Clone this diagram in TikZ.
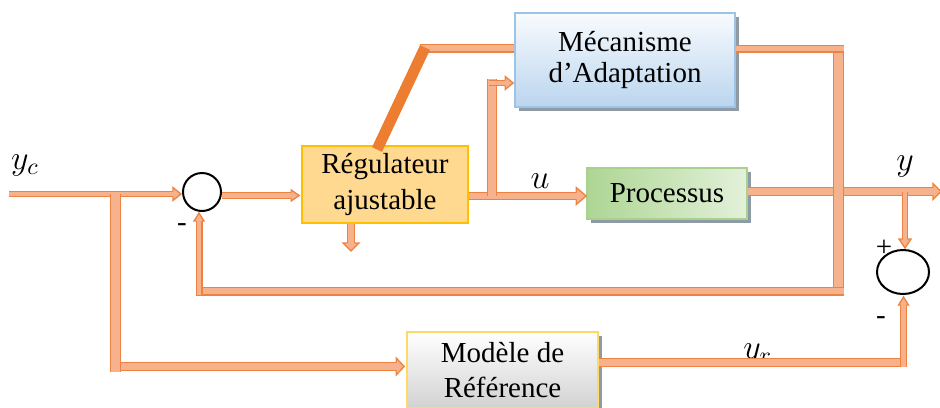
\documentclass[tikz,border=0pt]{standalone}
\usepackage{fix-cm}
\usepackage{fontspec}
\setmainfont{Liberation Serif}
\usetikzlibrary{calc,shadows,shapes.geometric}

\definecolor{pipefill}{HTML}{F5B28C}
\definecolor{pipeedge}{HTML}{EE8240}
\definecolor{adaptline}{HTML}{ED7D31}
\definecolor{regfill}{HTML}{FFD98F}
\definecolor{regedge}{HTML}{FFC000}
\definecolor{procleft}{HTML}{AED594}
\definecolor{procright}{HTML}{E3F1DA}
\definecolor{procedge}{HTML}{A9D18E}
\definecolor{mecatop}{HTML}{F8FBFE}
\definecolor{mecabot}{HTML}{BBD5EE}
\definecolor{mecaedge}{HTML}{9DC3E6}
\definecolor{modbot}{HTML}{D2D2D2}
\definecolor{modedge}{HTML}{FFD966}
\definecolor{shadowgray}{HTML}{8E9AA4}

\tikzset{
  % broad block-arrow shaft: orange rim, salmon core
  pipe/.style={draw=pipefill, line width=#1*0.5pt-1.3pt,
    preaction={draw=pipeedge, line width=#1*0.5pt}},
  % block-arrow head pointing along +x: shaft half width / head half width / head length
  pics/head/.style args={#1/#2/#3}{code={
    \fill[pipefill] (0,0) -- (-#3,#2) -- (-#3,-#2) -- cycle;
    \draw[pipeedge, line width=0.65pt, line join=miter]
      (-#3,#1) -- (-#3,#2) -- (0,0) -- (-#3,-#2) -- (-#3,-#1);
  }},
  txt/.style={font=\fontsize{14.5}{17.5}\selectfont, align=center, inner sep=0pt},
  blk/.style={txt, line width=0.8pt, minimum width=#1},
  sumnode/.style={draw=black, line width=1pt, inner sep=0pt},
  boxshadow/.style={drop shadow={shadow xshift=1.75pt, shadow yshift=-1.75pt,
    fill=shadowgray, opacity=1}},
  sign/.style={font=\fontsize{14.5}{17.5}\selectfont, inner sep=0pt},
  mlabel/.style={font=\fontsize{17}{20}\selectfont, inner sep=0pt}
}

\begin{document}
\begin{tikzpicture}[x=0.5pt, y=-0.5pt]
\useasboundingbox (0,0) rectangle (940,407);

% ---------- blocks ----------
\node[blk=83pt, minimum height=38.5pt, draw=regedge, fill=regfill]
  (reg) at (385,184.5) {Régulateur\\ajustable};
\node[blk=80pt, minimum height=25.5pt, draw=procedge, left color=procleft,
  right color=procright, boxshadow] (proc) at (667,193.5) {Processus};
\node[blk=110pt, minimum height=47pt, draw=mecaedge, top color=mecatop,
  bottom color=mecabot, boxshadow, font=\fontsize{14.5}{15.5}\selectfont]
  (meca) at (625,60) {Mécanisme\\d’Adaptation};
\node[blk=95.5pt, minimum height=38pt, draw=modedge, top color=white,
  bottom color=modbot, boxshadow] (model) at (502.5,370) {Modèle de\\Référence};

\node[sumnode, circle, minimum size=19pt] (sum1) at (202,192) {};
\node[sumnode, ellipse, minimum width=26pt, minimum height=22pt] (sum2) at (903,272) {};

% ---------- labels ----------
\node[mlabel] (lyc) at (25,165) {$y_c$};
\node[mlabel] (lu) at (540,181.5) {$u$};
\node[mlabel] (ly) at (905,166) {$y$};
\node[mlabel, anchor=base west] (lyr) at (743,358) {$y_r$};
\node[sign] (minus1) at (182,228) {-};
\node[sign] (plus2) at (884,248) {+};
\node[sign] (minus2) at (881,321) {-};

% ---------- junction points ----------
\coordinate (yin) at (9,194);
\coordinate (ysplit) at (115.5,194);
\coordinate (ycorner) at (115.5,366.5);
\coordinate (ujoin) at (492,196);
\coordinate (mtop) at (492,79);
\coordinate (yout) at (941,191.5);
\coordinate (ybr) at (905,191.5);
\coordinate (rtop) at (838.5,45);
\coordinate (rbot) at (838.5,295);
\coordinate (fbcorner) at (199,291);
\coordinate (mcorner) at (903.5,362.5);
\coordinate (adjtop) at (425,47.5);
\coordinate (adjbot) at (377,149.5);
\coordinate (regdown) at (351,251);

% ---------- set point into the first comparator ----------
\draw[pipe=6.5] (yin) -- ($(sum1.west |- yin)+(-9,0)$);
\pic at ($(sum1.west |- yin)+(-1,0)$) {head=2.6/6.5/8};

% ---------- set point into the reference model ----------
\draw[pipe=9] (ycorner) -- ($(model.west |- ycorner)+(-10,0)$);
\pic at ($(model.west |- ycorner)+(-2,0)$) {head=3.85/8.5/8};
\draw[pipe=11.5] (ysplit) -- ($(ycorner)+(0,5)$);

% ---------- comparator to controller ----------
\draw[pipe=7] ($(sum1.east)+(0,3.5)$) -- ($(reg.west |- 0,195.5)+(-10,0)$);
\pic at ($(reg.west |- 0,195.5)+(-2,0)$) {head=2.85/5.5/8};

% ---------- controller to process (u) ----------
\draw[pipe=8] (reg.east |- ujoin) -- ($(proc.west |- ujoin)+(-10,0)$);
\pic at (proc.west |- ujoin) {head=3.35/8.5/10};

% ---------- u towards the adaptation mechanism ----------
\draw[pipe=10] (ujoin) -- (mtop);
\draw[pipe=6.5] ($(mtop)+(-3,4)$) -- ($(meca.west |- 0,83)+(-9,0)$);
\pic at ($(meca.west |- 0,83)+(-1,0)$) {head=2.6/6.5/8};

% ---------- controller auxiliary output ----------
\draw[pipe=8] (regdown |- reg.south) -- ($(regdown)+(0,-8)$);
\pic[rotate=-90] at (regdown) {head=3.35/8/8};

% ---------- process output y ----------
\draw[pipe=9] (proc.east |- yout) -- ($(yout)+(-8,0)$);
\pic at (yout) {head=3.85/8/8};
\draw[pipe=6] (ybr) -- ($(ybr |- sum2.north)+(0,-10)$);
\pic[rotate=-90] at ($(ybr |- sum2.north)+(0,-1)$) {head=2.35/6/9};

% ---------- y to the mechanism and back to the first comparator ----------
\draw[pipe=11.5] (rtop) -- (rbot);
\draw[pipe=8] (meca.east |- 0,48.5) -- ($(rtop |- 0,48.5)+(5.5,0)$);
\draw[pipe=9] ($(rbot |- fbcorner)+(5.5,0)$) -- ($(fbcorner)+(-3.5,0)$);
\draw[pipe=7] ($(fbcorner)+(0,3.5)$) -- ($(fbcorner |- sum1.south)+(0,9)$);
\pic[rotate=90] at ($(fbcorner |- sum1.south)+(0,1)$) {head=2.85/5/8};

% ---------- model output y_r into the second comparator ----------
\draw[pipe=9] (model.east |- mcorner) -- ($(mcorner)+(3.5,0)$);
\draw[pipe=7] ($(mcorner)+(0,4.5)$) -- ($(mcorner |- sum2.south)+(0,10)$);
\pic[rotate=90] at ($(mcorner |- sum2.south)+(0,2)$) {head=2.85/5/8};

% ---------- adaptation: mechanism tunes the controller ----------
\draw[pipe=9] (meca.west |- 0,48) -- (420,48);
\draw[adaptline, line width=5.5pt] (adjtop) -- (adjbot);
\end{tikzpicture}
\end{document}
